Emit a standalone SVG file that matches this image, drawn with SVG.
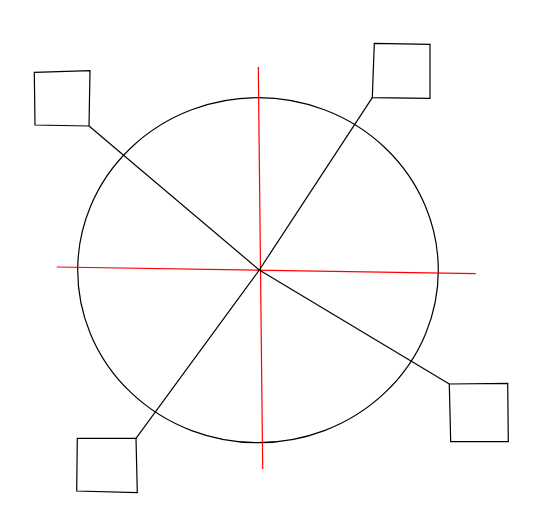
<svg xmlns="http://www.w3.org/2000/svg" width="537" height="525" viewBox="0 0 537 525">
<style>
.s{fill:#fff;stroke:#000;stroke-width:1.2}
.c{fill:none;stroke:#000;stroke-width:1.2}
.r{stroke:#f00;stroke-width:1.2}
</style>
<rect width="537" height="525" fill="#fff"/>
<ellipse id="circle" class="c" cx="258" cy="270.2" rx="180.3" ry="172.5"/>
<g id="axes">
<line class="r" x1="258.3" y1="67" x2="262.7" y2="469"/>
<line class="r" x1="56.7" y1="267" x2="475.7" y2="273.7"/>
</g>
<g id="connectors">
<line class="c" x1="259.3" y1="270" x2="89" y2="126"/>
<line class="c" x1="259.3" y1="270" x2="372.3" y2="97.7"/>
<line class="c" x1="259.3" y1="270" x2="449.3" y2="384"/>
<line class="c" x1="259.3" y1="270" x2="136" y2="438.3"/>
</g>
<g id="node-tl"><polygon class="s" points="34.3,72.3 90,70.7 89,126 35,125"/></g>
<g id="node-tr"><polygon class="s" points="374.3,43.3 430,44.3 430,98.3 372.3,97.7"/></g>
<g id="node-br"><polygon class="s" points="449.3,384 507.7,383.3 508.3,441.7 450.7,441.7"/></g>
<g id="node-bl"><polygon class="s" points="77.3,438.3 136,438.3 137.3,492.7 76.7,491"/></g>
</svg>
